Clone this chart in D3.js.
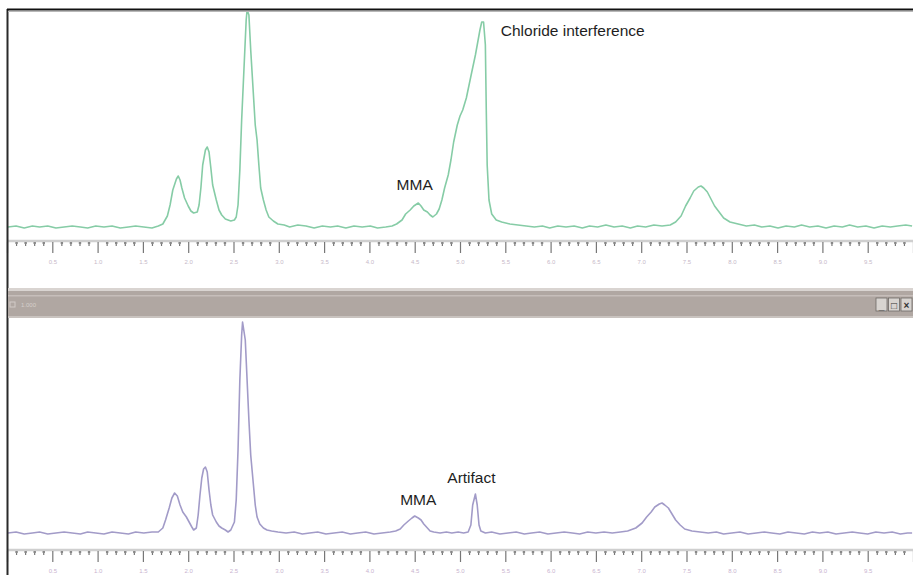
<!DOCTYPE html>
<html><head><meta charset="utf-8">
<script src="https://cdn.jsdelivr.net/npm/d3@7"></script>
<style>html,body{margin:0;padding:0;background:#fff;}svg{display:block;}</style>
</head><body>
<svg id="chart" width="913" height="575"></svg>
<script>
// Retention time (min) and detector signal for the upper (green) chromatogram
const topTime = [0.01,0.10,0.19,0.28,0.36,0.45,0.54,0.63,0.72,0.81,0.89,0.98,1.07,1.16,1.25,1.34,1.42,1.51,1.60,1.67,1.72,1.77,1.80,1.83,1.87,1.89,1.91,1.93,1.96,2.00,2.03,2.06,2.10,2.12,2.14,2.16,2.19,2.21,2.23,2.25,2.27,2.31,2.34,2.37,2.41,2.44,2.47,2.51,2.53,2.55,2.57,2.59,2.62,2.64,2.65,2.67,2.69,2.72,2.74,2.76,2.78,2.80,2.83,2.86,2.89,2.94,2.99,3.06,3.12,3.21,3.30,3.39,3.48,3.57,3.65,3.74,3.83,3.92,4.01,4.09,4.18,4.25,4.30,4.36,4.40,4.45,4.49,4.54,4.57,4.60,4.64,4.67,4.70,4.74,4.77,4.80,4.83,4.87,4.90,4.93,4.97,5.00,5.03,5.07,5.10,5.13,5.17,5.20,5.22,5.24,5.26,5.28,5.29,5.30,5.32,5.35,5.40,5.46,5.55,5.64,5.73,5.82,5.91,5.99,6.08,6.17,6.26,6.35,6.43,6.52,6.61,6.70,6.79,6.88,6.96,7.05,7.14,7.23,7.32,7.38,7.44,7.49,7.54,7.58,7.63,7.66,7.69,7.73,7.77,7.81,7.86,7.91,7.98,8.07,8.16,8.25,8.33,8.42,8.51,8.60,8.69,8.77,8.86,8.95,9.04,9.13,9.22,9.30,9.39,9.48,9.57,9.66,9.75,9.83,9.92,9.99];
const topSignal = [2.5,3,2,3,2.5,3,2,2.5,3,2.5,2,3,2.5,3,2,2.5,3,2.5,2,3,4,8,13.5,21,26.5,28,26,22,17,13,10.5,9.5,10,13.5,22,33.5,41,42.5,40,32,23.5,16,11,8.5,6.5,6,5.5,6,7.5,13.5,31,56,86,106,111,108.5,91,68.5,53.5,46,33.5,22,16,11,7.5,5.5,4,3.5,2.5,3.5,3,2,3,2.5,3,2,3,2.5,3,2,2.5,3,4,6,9,11,13,14.5,13,11,10,8.5,7.5,9,11.5,16,22,28.5,36,45,53.5,58,61,67,73.5,80,88.5,96,101,105,105,93.5,61,33.5,16,9,6,5,4,3.5,3,2.5,3,2,3,2.5,3,2,3,2.5,3.5,2.5,3,2,3,2.5,3.5,3,3.5,5,8,13,17,20.5,22.5,23,22,20,16.5,13,10,7,5,4,3,3.5,2.5,3,2,3,2.5,3.5,2.5,3,2,3,2.5,3.5,2.5,3,2,3,2.5,3,3.5,3];

// Lower (purple) chromatogram
const bottomTime = [0.01,0.10,0.19,0.28,0.36,0.45,0.54,0.63,0.72,0.81,0.89,0.98,1.07,1.16,1.25,1.34,1.42,1.51,1.60,1.67,1.72,1.75,1.79,1.82,1.85,1.88,1.91,1.94,1.98,2.01,2.04,2.06,2.09,2.11,2.13,2.15,2.17,2.19,2.21,2.23,2.25,2.27,2.31,2.34,2.37,2.41,2.44,2.47,2.51,2.53,2.55,2.57,2.59,2.60,2.63,2.65,2.67,2.69,2.72,2.74,2.76,2.79,2.83,2.87,2.92,2.99,3.08,3.17,3.26,3.34,3.43,3.52,3.61,3.70,3.79,3.87,3.96,4.05,4.14,4.23,4.29,4.34,4.38,4.43,4.47,4.50,4.54,4.57,4.60,4.64,4.67,4.71,4.78,4.85,4.91,4.98,5.04,5.09,5.12,5.14,5.17,5.19,5.21,5.23,5.28,5.35,5.44,5.53,5.62,5.71,5.79,5.88,5.97,6.06,6.15,6.24,6.32,6.41,6.50,6.59,6.68,6.77,6.85,6.94,7.01,7.06,7.11,7.15,7.20,7.23,7.26,7.30,7.34,7.38,7.43,7.48,7.56,7.65,7.74,7.83,7.91,8.00,8.09,8.18,8.27,8.36,8.44,8.53,8.62,8.71,8.80,8.89,8.97,9.06,9.15,9.24,9.33,9.41,9.50,9.59,9.68,9.77,9.86,9.94,9.99];
const bottomSignal = [2.5,3,2,2.5,3,2,2.5,3,2.5,2,3,2.5,2,3,2.5,2,3,2.5,3,3,5,9,15,20,22.5,21,16.5,13,10.5,8,5.5,4,5,11.5,21.5,30,34.5,35.5,33,24,16.5,11.5,8,6,5,4,3,4,8,19,44,79,101.5,108,99,79,59,41.5,26.5,16.5,10.5,7,5,4,3.5,3,2.5,3,2,2.5,3,2,2.5,3,2,2.5,3,2,2.5,3,3.5,4.5,6.5,8.5,10,11,10,9,7,5,3.5,3,2.5,3,2.5,3,2.5,3,6.5,16.5,22,16.5,6.5,3.5,2.5,3,2,2.5,3,2,2.5,3,2,2.5,3,2.5,2,3,2.5,3,2.5,3,3.5,5,7.5,10.5,13,15.5,17,17.5,16.5,15,12,9,6.5,4.5,3.5,3,2.5,3,2,2.5,3,2,2.5,3,2.5,2,3,2.5,2,3,2.5,3,2,2.5,3,2.5,2,3,2.5,3,2,2.5,2.5];

// Axis ticks (minutes)
const majorTicks = [0,0.5,1,1.5,2,2.5,3,3.5,4,4.5,5,5.5,6,6.5,7,7.5,8,8.5,9,9.5,10];
const minorTicks = [];
for (let i = 0; i <= 100; i++) minorTicks.push(i / 10);

// Peak annotations
const topLabels = ["MMA", "Chloride interference"];
const topLabelTimes = [4.30, 5.45];
const topLabelSignals = [21, 98];
const bottomLabels = ["MMA", "Artifact"];
const bottomLabelTimes = [4.34, 4.86];
const bottomLabelSignals = [16.5, 27.5];

const svg = d3.select("#chart");
const W = 913, H = 575;

const x = d3.scaleLinear().domain([0, 10]).range([7, 913]);
const yTop = d3.scaleLinear().domain([0, 110]).range([232, 12]);
const yBot = d3.scaleLinear().domain([0, 110]).range([538, 318]);

svg.append("rect").attr("width", W).attr("height", H).attr("fill", "#fff");

// clips
const defs = svg.append("defs");
defs.append("clipPath").attr("id", "clipTop").append("rect").attr("x", 8).attr("y", 11).attr("width", W).attr("height", 278);
defs.append("clipPath").attr("id", "clipBot").append("rect").attr("x", 8).attr("y", 318).attr("width", W).attr("height", 257);

function drawAxis(yLine, labelColor) {
  const g = svg.append("g");
  g.append("line").attr("x1", 8).attr("x2", W).attr("y1", yLine).attr("y2", yLine)
    .attr("stroke", "#cfcfcf").attr("stroke-width", 2.5);
  const minorAxis = d3.axisBottom(x).tickValues(minorTicks.filter(t => Math.round(t * 10) % 5 !== 0))
    .tickSize(4).tickSizeOuter(0).tickFormat("");
  const gm = g.append("g").attr("transform", `translate(0,${yLine + 1})`).call(minorAxis);
  gm.select(".domain").remove();
  gm.selectAll(".tick line").attr("stroke", "#777").attr("stroke-width", 1.2);
  gm.selectAll(".tick").append("rect").attr("x", -1.2).attr("y", 0).attr("width", 2.4).attr("height", 2).attr("fill", "#888");
  const majorAxis = d3.axisBottom(x).tickValues(majorTicks).tickSize(11).tickSizeOuter(0)
    .tickFormat(d => (d > 0 && d < 10) ? d3.format(".1f")(d) : "");
  const gM = g.append("g").attr("transform", `translate(0,${yLine + 1})`).call(majorAxis);
  gM.select(".domain").remove();
  gM.selectAll(".tick line").attr("stroke", "#777").attr("stroke-width", 1.2);
  gM.selectAll(".tick text").attr("fill", labelColor).attr("font-size", 6)
    .attr("font-family", "Liberation Sans, Arial, sans-serif").attr("dy", "1.3em");
}

drawAxis(241, "#c7b9c9");
drawAxis(550, "#c9b3cf");

// traces
const lineTop = d3.line().x((d, i) => x(topTime[i])).y(d => yTop(d)).curve(d3.curveLinear);
svg.append("path").datum(topSignal).attr("d", lineTop).attr("fill", "none")
  .attr("stroke", "#86cca6").attr("stroke-width", 1.6).attr("stroke-linejoin", "round")
  .attr("clip-path", "url(#clipTop)");
const lineBot = d3.line().x((d, i) => x(bottomTime[i])).y(d => yBot(d)).curve(d3.curveLinear);
svg.append("path").datum(bottomSignal).attr("d", lineBot).attr("fill", "none")
  .attr("stroke", "#a29bc8").attr("stroke-width", 1.6).attr("stroke-linejoin", "round")
  .attr("clip-path", "url(#clipBot)");

// annotations
const font = "Liberation Sans, Arial, sans-serif";
topLabels.forEach((t, i) => {
  svg.append("text").attr("x", x(topLabelTimes[i])).attr("y", yTop(topLabelSignals[i]))
    .attr("font-family", font).attr("font-size", 15.5).attr("fill", "#1e1e1e").text(t);
});
bottomLabels.forEach((t, i) => {
  svg.append("text").attr("x", x(bottomLabelTimes[i])).attr("y", yBot(bottomLabelSignals[i]))
    .attr("font-family", font).attr("font-size", 15.5).attr("fill", "#1e1e1e").text(t);
});

// frame: left and top borders
svg.append("line").attr("x1", 7.5).attr("x2", 7.5).attr("y1", 9).attr("y2", H).attr("stroke", "#2a2a2a").attr("stroke-width", 2);
svg.append("line").attr("x1", 7).attr("x2", W).attr("y1", 9.5).attr("y2", 9.5).attr("stroke", "#111").attr("stroke-width", 2);
svg.append("line").attr("x1", 8).attr("x2", W).attr("y1", 11.5).attr("y2", 11.5).attr("stroke", "#b8b8b8").attr("stroke-width", 1);

// divider (window title bar)
svg.append("rect").attr("x", 8).attr("y", 288).attr("width", W - 8).attr("height", 3).attr("fill", "#d9d4d1");
svg.append("rect").attr("x", 8).attr("y", 291).attr("width", W - 8).attr("height", 27).attr("fill", "#b0a7a2");
svg.append("rect").attr("x", 8).attr("y", 295).attr("width", W - 8).attr("height", 1.5).attr("fill", "#c6beba");
svg.append("rect").attr("x", 8).attr("y", 316).attr("width", W - 8).attr("height", 2).attr("fill", "#c9c3bf");
svg.append("rect").attr("x", 10).attr("y", 302).attr("width", 5).attr("height", 5).attr("fill", "none").attr("stroke", "#d2cbc7").attr("stroke-width", 1);
svg.append("text").attr("x", 21).attr("y", 307).attr("font-family", font).attr("font-size", 6).attr("fill", "#d6cfcb").text("1.000");

// window buttons
const btns = ["_", "□", "×"];
btns.forEach((b, i) => {
  const bx = 876 + i * 12.5;
  svg.append("rect").attr("x", bx).attr("y", 298).attr("width", 11).attr("height", 13).attr("fill", "#d8d4d0").attr("stroke", "#6e6a66").attr("stroke-width", 0.8);
  svg.append("text").attr("x", bx + 5.5).attr("y", 309).attr("text-anchor", "middle").attr("font-family", font)
    .attr("font-size", 10).attr("font-weight", "bold").attr("fill", "#333").text(b);
});
</script>
</body></html>
